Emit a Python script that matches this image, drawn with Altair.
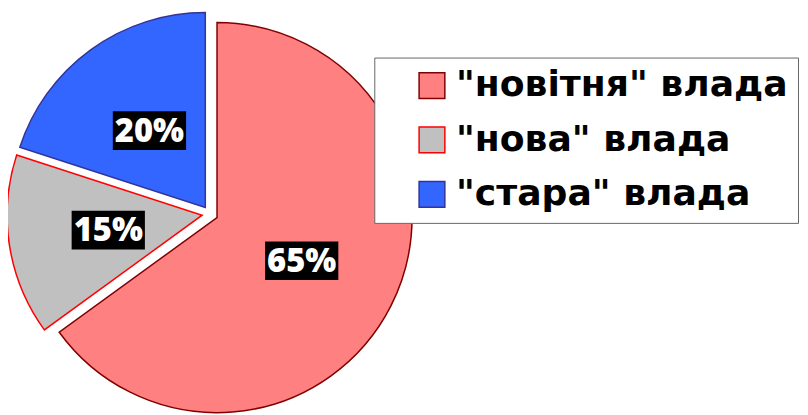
import altair as alt
import pandas as pd

categories = ['"новітня" влада', '"нова" влада', '"стара" влада']
shares = [65, 15, 20]
labels = ["65%", "15%", "20%"]
fills = ["#FF8080", "#C0C0C0", "#3366FF"]
strokes = ["#800000", "#FF0000", "#333399"]

df = pd.DataFrame({"cat": categories, "share": shares, "label": labels, "idx": [0, 1, 2]})

CX, CY = 204, 206      # pie centre (pixels)
R = 197                # pie radius
EXPLODE = 8            # slice explode distance
LABEL_R = 96           # label distance from slice apex
BOX_W, BOX_H = 74, 39  # label box size

base = (
    alt.Chart(df)
    .transform_window(cum="sum(share)", sort=[alt.SortField("idx")], frame=[None, 0])
    .transform_joinaggregate(total="sum(share)")
    .transform_calculate(t0="(datum.cum - datum.share) / datum.total * 2 * PI")
    .transform_calculate(t1="datum.cum / datum.total * 2 * PI")
    .transform_calculate(mid="(datum.t0 + datum.t1) / 2")
    .transform_calculate(ax=f"{CX} + {EXPLODE} * sin(datum.mid)")
    .transform_calculate(ay=f"{CY} - {EXPLODE} * cos(datum.mid)")
    .transform_calculate(lx=f"datum.ax + {LABEL_R} * sin(datum.mid)")
    .transform_calculate(ly=f"datum.ay - {LABEL_R} * cos(datum.mid)")
    .transform_calculate(bx0=f"datum.lx - {BOX_W / 2}", bx1=f"datum.lx + {BOX_W / 2}")
    .transform_calculate(by0=f"datum.ly - {BOX_H / 2}", by1=f"datum.ly + {BOX_H / 2}")
)

legend_kw = dict(
    title=None,
    orient="none",
    legendX=370,
    legendY=48,
    padding=10,
    strokeColor="#666666",
    fillColor="white",
    symbolType="square",
    symbolSize=676,
    symbolStrokeWidth=1.5,
    symbolOffset=30,
    labelOffset=6,
    labelFont="DejaVu Sans",
    labelFontSize=36.5,
    labelFontWeight="bold",
    labelColor="black",
    labelLimit=600,
    rowPadding=18,
)

arcs = base.mark_arc(radius=R, strokeWidth=1.5).encode(
    x=alt.X("ax:Q", scale=None, axis=None),
    y=alt.Y("ay:Q", scale=None, axis=None),
    theta=alt.Theta("t0:Q", scale=None),
    theta2="t1:Q",
    color=alt.Color("cat:N", scale=alt.Scale(domain=categories, range=fills), legend=alt.Legend(**legend_kw)),
    stroke=alt.Stroke("cat:N", scale=alt.Scale(domain=categories, range=strokes), legend=alt.Legend(**legend_kw)),
)

boxes = base.mark_rect(color="black").encode(
    x=alt.X("bx0:Q", scale=None, axis=None),
    x2="bx1:Q",
    y=alt.Y("by0:Q", scale=None, axis=None),
    y2="by1:Q",
)

texts = base.mark_text(
    color="white", font="Noto Sans", fontSize=33, fontWeight=900, align="center", baseline="middle", dy=1
).encode(
    x=alt.X("lx:Q", scale=None, axis=None),
    y=alt.Y("ly:Q", scale=None, axis=None),
    text="label:N",
)

chart = (
    alt.layer(arcs, boxes, texts)
    .properties(width=800, height=407, autosize=alt.AutoSizeParams(type="none"), padding=0, background="white")
    .configure_view(strokeWidth=0)
)

chart.save("out.html", embed_options={"renderer": "svg", "actions": False})
